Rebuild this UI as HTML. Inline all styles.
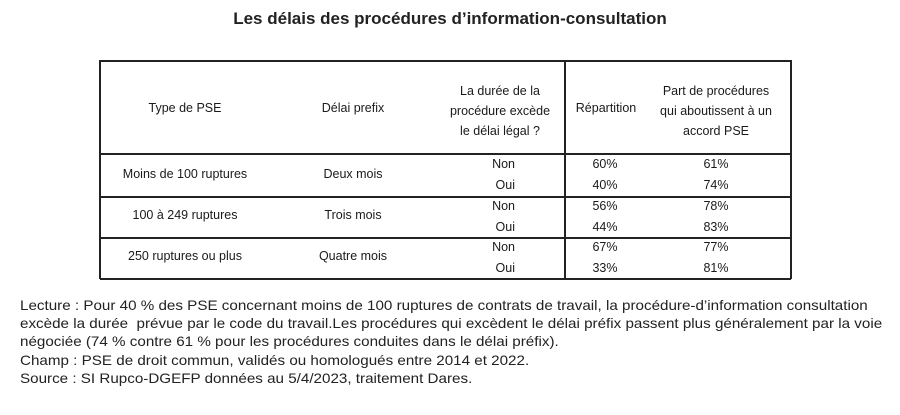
<!DOCTYPE html>
<html><head><meta charset="utf-8"><style>
body{margin:0;width:900px;height:415px;background:#fff;position:relative;font-family:"Liberation Sans",sans-serif;color:#1a1a1a;overflow:hidden}
.a{position:absolute;white-space:nowrap}
.c{transform:translateX(-50%);text-align:center}
.r{transform:translateX(-100%)}
.t{font-size:12.5px}
.h{position:absolute;height:1.5px;background:#222;left:100px;width:691px}
.n{font-size:14px;color:#222;transform-origin:0 0;transform:scaleX(1.085)}
</style></head><body>
<div class="a c" style="left:450px;top:9px;font-size:17px;font-weight:bold;color:#222">Les délais des procédures d’information-consultation</div>
<div class="h" style="top:60px"></div>
<div class="h" style="top:153px"></div>
<div class="h" style="top:196px"></div>
<div class="h" style="top:237px"></div>
<div class="h" style="top:278px"></div>
<div style="position:absolute;left:99px;top:60px;width:1.5px;height:219px;background:#222"></div>
<div style="position:absolute;left:564px;top:60px;width:1.5px;height:219px;background:#222"></div>
<div style="position:absolute;left:790px;top:60px;width:1.5px;height:219px;background:#222"></div>
<div class="a c t" style="left:185px;top:101px">Type de PSE</div>
<div class="a c t" style="left:353px;top:101px">Délai prefix</div>
<div class="a c t" style="left:500px;top:81px;line-height:20px">La durée de la<br>procédure excède<br>le délai légal ?</div>
<div class="a c t" style="left:606px;top:101px">Répartition</div>
<div class="a c t" style="left:716px;top:81px;line-height:20px">Part de procédures<br>qui aboutissent à un<br>accord PSE</div>

<div class="a c t" style="left:185px;top:167px">Moins de 100 ruptures</div>
<div class="a c t" style="left:353px;top:167px">Deux mois</div>
<div class="a c t" style="left:185px;top:208px">100 à 249 ruptures</div>
<div class="a c t" style="left:353px;top:208px">Trois mois</div>
<div class="a c t" style="left:185px;top:249px">250 ruptures ou plus</div>
<div class="a c t" style="left:353px;top:249px">Quatre mois</div>

<div class="a r t" style="left:515px;top:157px">Non</div>
<div class="a r t" style="left:515px;top:178px">Oui</div>
<div class="a r t" style="left:515px;top:199px">Non</div>
<div class="a r t" style="left:515px;top:220px">Oui</div>
<div class="a r t" style="left:515px;top:240px">Non</div>
<div class="a r t" style="left:515px;top:261px">Oui</div>

<div class="a c t" style="left:605px;top:157px">60%</div>
<div class="a c t" style="left:605px;top:178px">40%</div>
<div class="a c t" style="left:605px;top:199px">56%</div>
<div class="a c t" style="left:605px;top:220px">44%</div>
<div class="a c t" style="left:605px;top:240px">67%</div>
<div class="a c t" style="left:605px;top:261px">33%</div>

<div class="a c t" style="left:716px;top:157px">61%</div>
<div class="a c t" style="left:716px;top:178px">74%</div>
<div class="a c t" style="left:716px;top:199px">78%</div>
<div class="a c t" style="left:716px;top:220px">83%</div>
<div class="a c t" style="left:716px;top:240px">77%</div>
<div class="a c t" style="left:716px;top:261px">81%</div>

<div class="a n" style="left:20px;top:297px">Lecture : Pour 40 % des PSE concernant moins de 100 ruptures de contrats de travail, la procédure-d’information consultation</div>
<div class="a n" style="left:20px;top:315px">excède la durée&nbsp; prévue par le code du travail.Les procédures qui excèdent le délai préfix passent plus généralement par la voie</div>
<div class="a n" style="left:20px;top:333px">négociée (74 % contre 61 % pour les procédures conduites dans le délai préfix).</div>
<div class="a n" style="left:20px;top:352px">Champ : PSE de droit commun, validés ou homologués entre 2014 et 2022.</div>
<div class="a n" style="left:20px;top:370px">Source : SI Rupco-DGEFP données au 5/4/2023, traitement Dares.</div>
</body></html>
